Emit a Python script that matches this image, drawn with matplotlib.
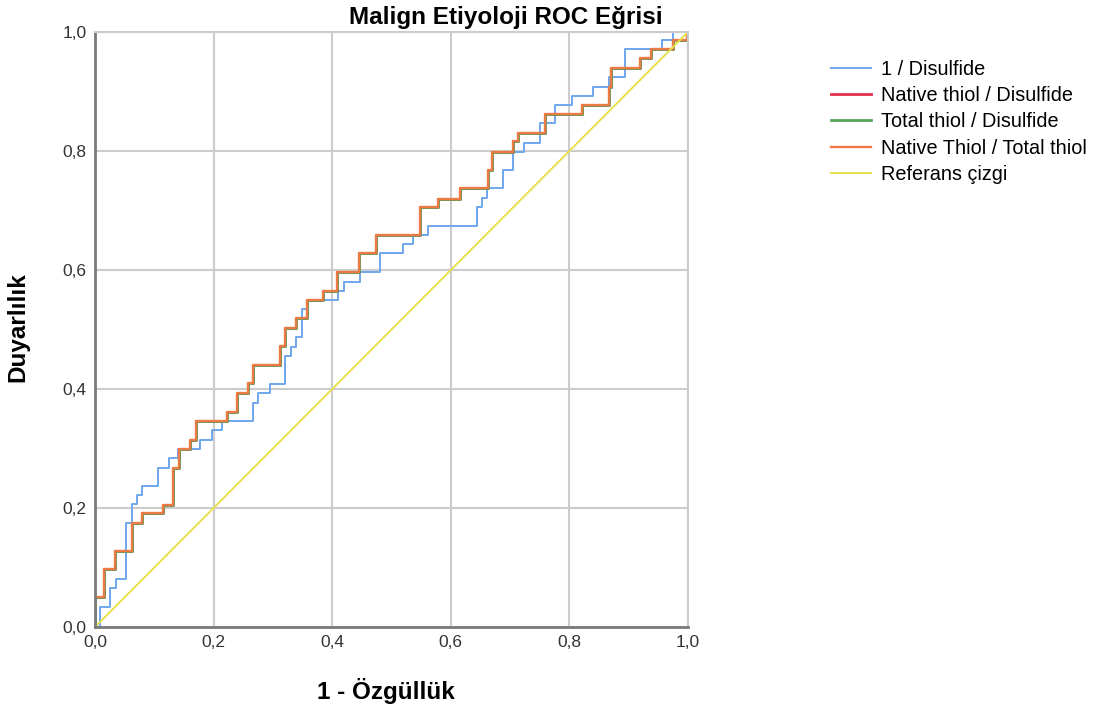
import matplotlib
matplotlib.use("Agg")
import matplotlib.pyplot as plt
from matplotlib.ticker import FuncFormatter, MultipleLocator

plt.rcParams['font.family'] = ['Liberation Sans', 'DejaVu Sans']

# --- Datos (puntos ROC, escalones) ---
# 1 / Disulfide
inv_fpr = [0, 0.008, 0.026, 0.035, 0.052, 0.062, 0.070, 0.080, 0.107, 0.125,
           0.140, 0.177, 0.197, 0.214, 0.267, 0.275, 0.295, 0.320, 0.330, 0.339,
           0.349, 0.357, 0.410, 0.420, 0.447, 0.481, 0.519, 0.537, 0.562, 0.644,
           0.652, 0.661, 0.688, 0.705, 0.723, 0.750, 0.776, 0.804, 0.839, 0.867,
           0.893, 0.956, 0.974, 1.0]
inv_tpr = [0, 0.034, 0.065, 0.080, 0.175, 0.207, 0.222, 0.237, 0.268, 0.284,
           0.299, 0.314, 0.331, 0.347, 0.377, 0.393, 0.409, 0.456, 0.471, 0.487,
           0.534, 0.550, 0.565, 0.580, 0.596, 0.628, 0.644, 0.659, 0.674, 0.705,
           0.721, 0.737, 0.768, 0.799, 0.814, 0.847, 0.877, 0.892, 0.908, 0.924,
           0.971, 0.987, 1.0, 1.0]

# Native thiol / Total thiol (las otras dos casi idénticas)
thiol_fpr = [0, 0, 0.015, 0.034, 0.062, 0.079, 0.115, 0.132, 0.142, 0.160,
             0.170, 0.222, 0.239, 0.258, 0.267, 0.312, 0.320, 0.339, 0.357, 0.385,
             0.408, 0.446, 0.473, 0.548, 0.579, 0.616, 0.662, 0.669, 0.705, 0.714,
             0.759, 0.822, 0.867, 0.870, 0.919, 0.937, 0.974, 0.998, 1.0]
thiol_tpr = [0, 0.050, 0.097, 0.128, 0.174, 0.191, 0.205, 0.268, 0.299, 0.314,
             0.347, 0.362, 0.393, 0.410, 0.440, 0.472, 0.502, 0.519, 0.550, 0.565,
             0.596, 0.628, 0.659, 0.705, 0.720, 0.737, 0.768, 0.799, 0.816, 0.831,
             0.862, 0.877, 0.908, 0.940, 0.956, 0.971, 0.987, 1.0, 1.0]

native_dis_fpr, native_dis_tpr = thiol_fpr, thiol_tpr
total_dis_fpr, total_dis_tpr = thiol_fpr, thiol_tpr

ref_line = [0, 1]

labels = ['1 / Disulfide', 'Native thiol / Disulfide', 'Total thiol / Disulfide',
          'Native Thiol / Total thiol', 'Referans çizgi']
colors = ['#6fa6ee', '#e0304f', '#5aa55a', '#ec7a44', '#e8e04a']

# --- Figura ---
fig = plt.figure(figsize=(11.01, 7.09), dpi=100)
ax = fig.add_axes([0.0863, 0.1157, 0.5386, 0.8392])

ax.plot(inv_fpr, inv_tpr, drawstyle='steps-post', color=colors[0], lw=1.4, label=labels[0])
ax.plot(native_dis_fpr, native_dis_tpr, drawstyle='steps-post', color=colors[1], lw=2.0, label=labels[1])
ax.plot(total_dis_fpr, total_dis_tpr, drawstyle='steps-post', color=colors[2], lw=2.0, label=labels[2])
ax.plot(thiol_fpr, thiol_tpr, drawstyle='steps-post', color=colors[3], lw=1.7, label=labels[3])
ax.plot(ref_line, ref_line, color=colors[4], lw=1.4, label=labels[4])

ax.set_xlim(0, 1)
ax.set_ylim(0, 1)
ax.xaxis.set_major_locator(MultipleLocator(0.2))
ax.yaxis.set_major_locator(MultipleLocator(0.2))
fmt = FuncFormatter(lambda v, p: f"{v:.1f}".replace('.', ','))
ax.xaxis.set_major_formatter(fmt)
ax.yaxis.set_major_formatter(fmt)
ax.grid(True, color='#cccccc', lw=1.5)
ax.set_axisbelow(True)
ax.tick_params(labelsize=12.5, labelcolor='#333333', length=0, pad=6)

for s in ['top', 'right']:
    ax.spines[s].set_color('#cccccc')
    ax.spines[s].set_linewidth(1.5)
for s in ['left', 'bottom']:
    ax.spines[s].set_color('#7a7a7a')
    ax.spines[s].set_linewidth(2)

ax.set_xlabel('1 - Özgüllük', fontsize=17.5, fontweight='bold')
ax.set_ylabel('Duyarlılık', fontsize=17.5, fontweight='bold')
ax.xaxis.set_label_coords(0.49, -0.086)
ax.yaxis.set_label_coords(-0.110, 0.504)

fig.text(0.459, 0.975, 'Malign Etiyoloji ROC Eğrisi', fontsize=17.5, fontweight='bold',
         ha='center', va='center')

ax.legend(loc='upper left', bbox_to_anchor=(0.7547, 0.916), bbox_transform=fig.transFigure,
          frameon=False, fontsize=14.3, handlelength=2.0, handletextpad=0.5,
          labelspacing=0.37, borderaxespad=0, borderpad=0)

fig.savefig('out.png', dpi=100)
